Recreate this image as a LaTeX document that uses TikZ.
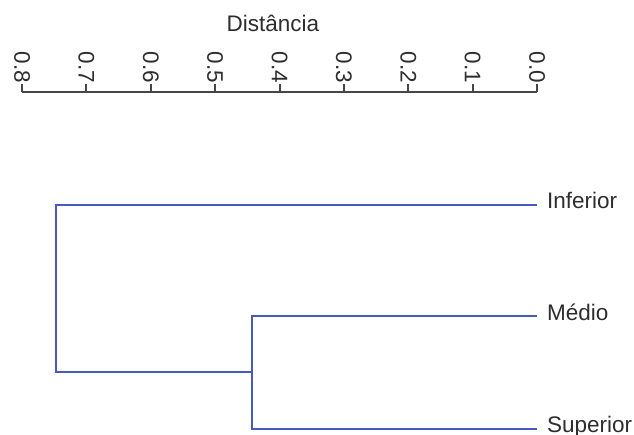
\documentclass[tikz,border=0pt]{standalone}
\usepackage{fontspec}
\setmainfont{Liberation Sans}
\definecolor{dendro}{RGB}{72,90,190}
\definecolor{axisgray}{RGB}{70,70,70}
\definecolor{labgray}{RGB}{45,45,45}
\begin{document}
\begin{tikzpicture}[x=1pt,y=-1pt,
  axisline/.style={draw=axisgray,line width=2pt},
  branch/.style={draw=dendro,line width=2pt},
  bigfont/.style={font=\fontsize{22.5}{22.5}\selectfont,text=labgray},
  ticklab/.style={bigfont,rotate=-90,anchor=east,inner sep=1pt},
  leaflab/.style={bigfont,anchor=base west,inner sep=0pt}]
\useasboundingbox (0,0) rectangle (634,435);
\node[bigfont,anchor=base,inner sep=0pt] (title) at (273,32) {Distância};
\coordinate (a0) at (22,92);
\coordinate (a8) at (537,92);
\draw[axisline] (a0) -- (a8);
\foreach \i/\lab in {0/0.8,1/0.7,2/0.6,3/0.5,4/0.4,5/0.3,6/0.2,7/0.1,8/0.0}{
  \coordinate (t\i) at ({22+\i*64.375},92);
  \draw[axisline] (t\i) -- ++(0,-8) coordinate (tt\i);
  \node[ticklab] (l\i) at (tt\i) {\lab};
}
% leaves
\coordinate (inf) at (537,205);
\coordinate (med) at (537,316);
\coordinate (sup) at (537,429);
\coordinate (ms) at (252,372);
\coordinate (root) at (56,290);
\node[leaflab] (Linf) at (547,209) {Inferior};
\node[leaflab] (Lmed) at (547,320) {Médio};
\node[leaflab] (Lsup) at (547,432) {Superior};
\draw[branch] (med) -- (ms |- med) -- (ms |- sup) -- (sup);
\draw[branch] (inf) -- (root |- inf) -- (root |- ms) -- (ms);
\end{tikzpicture}
\end{document}
